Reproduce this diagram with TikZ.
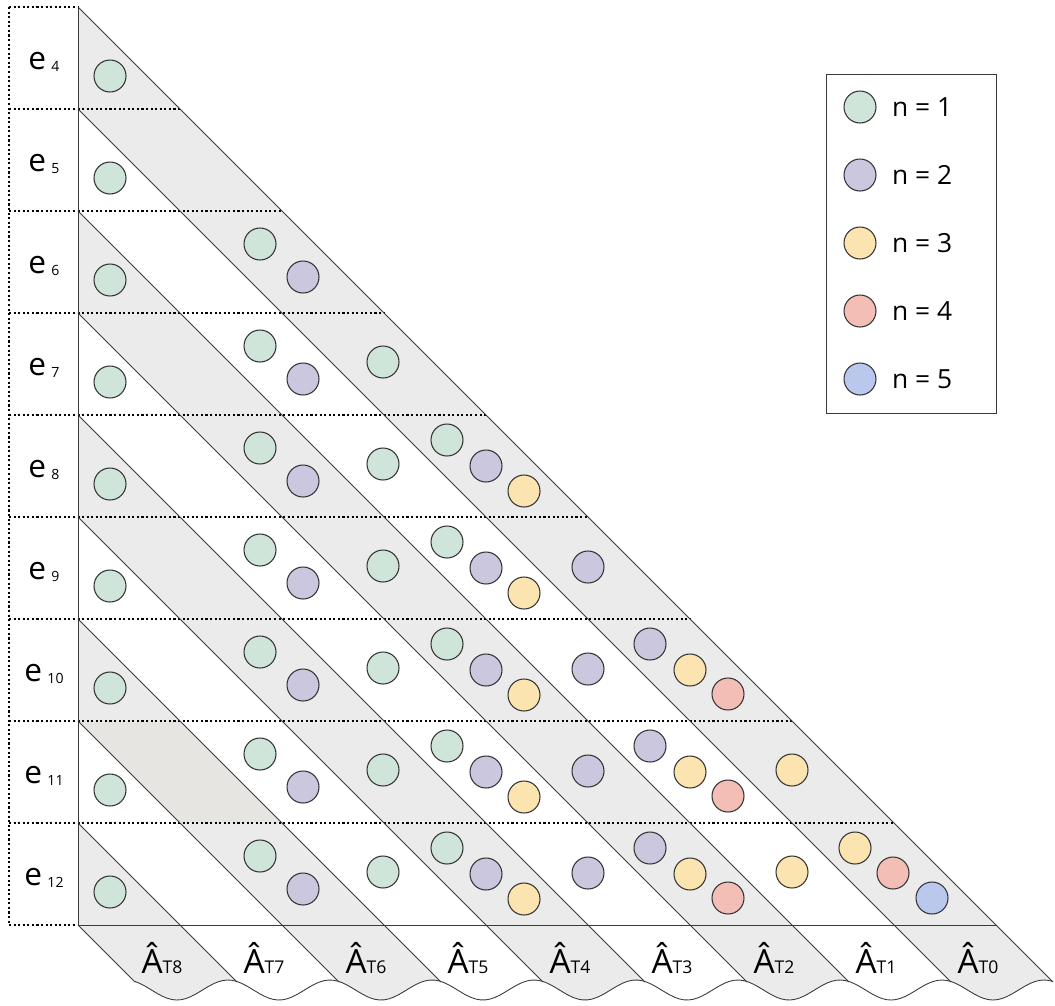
\documentclass[tikz,border=0pt]{standalone}
\usepackage{fontspec}
\setmainfont{Open Sans}
\usepackage{tikz}
\usetikzlibrary{positioning}

\definecolor{bandgray}{HTML}{EBEBEB}
\definecolor{bandbeige}{HTML}{E6E5E1}
\definecolor{linegray}{HTML}{3A3A3A}
\definecolor{ngreen}{HTML}{CFE5DA}
\definecolor{npurple}{HTML}{CBC7DF}
\definecolor{nyellow}{HTML}{FBE4AF}
\definecolor{nred}{HTML}{F3BEB5}
\definecolor{nblue}{HTML}{BAC8EE}

% row and column labels
\newcommand{\elabel}[1]{e\,{\fontsize{8}{8}\selectfont\raisebox{-1pt}{#1}}}
\newcommand{\alabel}[1]{{\fontsize{19}{20}\selectfont\^{A}}{\fontsize{10}{10}\selectfont #1}}
% wavy bottom edge of the tabs
\newcommand{\wavey}[1]{990-10*cos(3.529412*(#1-228))}

\begin{document}
\begin{tikzpicture}[
    x=0.02cm, y=-0.02cm,
    every node/.style={font=\fontsize{15}{18}\selectfont},
    rowlabel/.style={font=\fontsize{18}{20}\selectfont},
    collabel/.style={inner sep=0pt},
    gridline/.style={line width=1.3pt, dash pattern=on 1.2pt off 1.4pt},
    edge/.style={draw=linegray, line width=0.5pt},
    ball/.style={circle, draw=black!80, line width=0.6pt, minimum size=0.64cm, inner sep=0pt},
    greenball/.style={ball, fill=ngreen},
    purpleball/.style={ball, fill=npurple},
    yellowball/.style={ball, fill=nyellow},
    redball/.style={ball, fill=nred},
    blueball/.style={ball, fill=nblue},
    legendbox/.style={draw=linegray, line width=0.5pt, fill=white, inner sep=0pt,
        minimum width=3.4cm, minimum height=6.78cm}
]
\useasboundingbox (0,0) rectangle (1055,1005);

% gray bands, down into the wavy tabs
\foreach \k in {0,2,4,6,8} {
    \pgfmathsetmacro\wl{951-102*\k}
    \pgfmathsetmacro\wr{1053-102*\k}
    \fill[bandgray] (78,{109+102*\k}) -- (\wl,982)
        -- plot[domain=\wl:\wr, samples=25] (\x,{\wavey{\x}})
        -- (78,{7+102*\k}) -- cycle;
}
\fill[bandbeige] (78,721) -- (180,721) -- (282,823) -- (180,823) -- cycle;

% dotted rows
\foreach \i in {0,...,8}
    \draw[gridline] (9,{7+102*\i}) -- ({78+102*\i},{7+102*\i});
\draw[gridline] (9,925) -- (78,925);
\draw[gridline] (9,7) -- (9,925);

% diagonals and frame
\foreach \k in {0,...,9}
    \draw[edge] (78,{7+102*\k}) -- ({1053-102*\k},982);
\draw[edge] plot[domain=135:1053, samples=200] (\x,{\wavey{\x}});
\draw[edge] (78,7) -- (78,925) -- (996,925);

% row labels
\foreach \i in {0,...,8} {
    \pgfmathtruncatemacro\rownum{\i+4}
    \node[rowlabel] (e\rownum) at (44,{7+102*\i+55}) {\elabel{\rownum}};
}

% column labels
\foreach \k in {0,...,8}
    \node[collabel] (a\k) at ({978-102*\k},958) {\alabel{T\k}};

% circles per row
\foreach \i in {0,...,8}
    \node[greenball] (g0-\i) at (110,{7+102*\i+69}) {};
\foreach \i in {2,...,8} {
    \node[greenball] (g1-\i) at (260,{7+102*\i+33}) {};
    \node[purpleball] (p1-\i) at (303,{7+102*\i+66}) {};
}
\foreach \i in {3,...,8}
    \node[greenball] (g2-\i) at (383,{7+102*\i+49}) {};
\foreach \i in {4,...,8} {
    \node[greenball] (g3-\i) at (447,{7+102*\i+25}) {};
    \node[purpleball] (p3-\i) at (486,{7+102*\i+51}) {};
    \node[yellowball] (y3-\i) at (524,{7+102*\i+76}) {};
}
\foreach \i in {5,...,8}
    \node[purpleball] (p4-\i) at (588,{7+102*\i+50}) {};
\foreach \i in {6,...,8} {
    \node[purpleball] (p5-\i) at (650,{7+102*\i+25}) {};
    \node[yellowball] (y5-\i) at (690,{7+102*\i+51}) {};
    \node[redball] (r5-\i) at (728,{7+102*\i+75}) {};
}
\foreach \i in {7,8}
    \node[yellowball] (y6-\i) at (792,{7+102*\i+49}) {};
\node[yellowball] (y7-8) at (855,848) {};
\node[redball] (r7-8) at (893,873) {};
\node[blueball] (b7-8) at (932,898) {};

% legend
\node[legendbox, anchor=north west] (legend) at (826,74) {};
\node[greenball] (lg1) at (860,107) {};
\node[purpleball] (lg2) at (860,175) {};
\node[yellowball] (lg3) at (860,243) {};
\node[redball] (lg4) at (860,311) {};
\node[blueball] (lg5) at (860,379) {};
\node[anchor=west] (lt1) at (886,107) {n = 1};
\node[anchor=west] (lt2) at (886,175) {n = 2};
\node[anchor=west] (lt3) at (886,243) {n = 3};
\node[anchor=west] (lt4) at (886,311) {n = 4};
\node[anchor=west] (lt5) at (886,379) {n = 5};

\end{tikzpicture}
\end{document}
